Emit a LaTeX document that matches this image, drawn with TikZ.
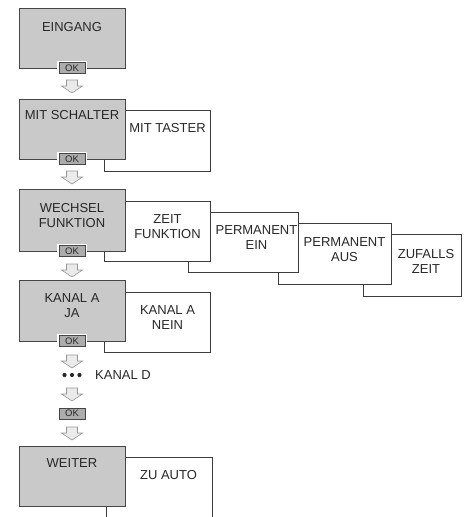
\documentclass[tikz,border=0pt]{standalone}
\usepackage{fontspec}
\setmainfont{Liberation Sans}
\definecolor{boxgray}{RGB}{201,201,201}
\definecolor{boxline}{RGB}{70,70,70}
\definecolor{wline}{RGB}{60,60,60}
\definecolor{okgray}{RGB}{172,172,172}
\definecolor{arrowfill}{RGB}{234,234,234}
\definecolor{arrowline}{RGB}{150,150,150}
\definecolor{txt}{RGB}{40,40,40}
\tikzset{
  downarrow/.pic={\draw[fill=arrowfill,draw=arrowline,line width=0.6pt,line join=miter]
    (-5.5,0) -- (5.5,0) -- (5.5,6) -- (10.5,6) -- (0,13) -- (-10.5,6) -- (-5.5,6) -- cycle;},
}
\begin{document}
\begin{tikzpicture}[x=1pt,y=-1pt,
  gbox/.style={draw=boxline,fill=boxgray,line width=0.8pt,minimum width=106pt,minimum height=60pt,inner sep=0pt},
  wbox/.style={draw=wline,fill=white,line width=0.8pt,inner sep=0pt},
  lbl/.style={text=txt,font=\fontsize{13}{15}\selectfont,align=center,inner sep=0pt},
  okbtn/.style={draw=boxline,fill=okgray,line width=0.7pt,minimum width=26pt,minimum height=11pt,inner sep=0pt,
    font=\fontsize{9.5}{9.5}\selectfont,text=txt,preaction={draw=white,line width=4pt}},
  dot/.style={circle,fill=txt,inner sep=0pt,minimum size=4.2pt},
]
\useasboundingbox (0,0) rectangle (466,517);
\clip (0,0) rectangle (466,517);

% EINGANG
\node[gbox] (eing) at (72,38) {};
\node[okbtn] (ok1) at (72,68) {OK};
\pic at (72,80) {downarrow};

% MIT SCHALTER / MIT TASTER
\node[wbox,minimum width=106pt,minimum height=61pt] (taster) at (157,140.5) {};
\node[gbox] (schalter) at (72,129) {};
\node[okbtn] (ok2) at (72,159) {OK};
\pic at (72,171) {downarrow};

% WECHSEL FUNKTION row
\node[wbox,minimum width=98pt,minimum height=62pt] (zufall) at (412,265) {};
\node[wbox,minimum width=113pt,minimum height=61pt] (paus) at (334.5,253.5) {};
\node[wbox,minimum width=110pt,minimum height=60pt] (pein) at (243,242) {};
\node[wbox,minimum width=106pt,minimum height=60pt] (zeit) at (157,231) {};
\node[gbox,minimum height=62pt] (wechsel) at (72,220) {};
\node[okbtn] (ok3) at (72,251) {OK};
\pic at (72,264) {downarrow};

% KANAL A
\node[wbox,minimum width=106pt,minimum height=60pt] (nein) at (157,322) {};
\node[gbox,minimum height=61pt] (ja) at (72,310.5) {};
\node[okbtn] (ok4) at (72,341) {OK};
\pic at (72,355) {downarrow};

% KANAL D
\node[dot] (d1) at (64.5,375) {};
\node[dot] (d2) at (72,375) {};
\node[dot] (d3) at (79.5,375) {};
\pic at (72,388) {downarrow};
\node[okbtn] (ok5) at (72,413.5) {OK};
\pic at (72,427) {downarrow};

% WEITER / ZU AUTO
\node[wbox,minimum width=106pt,minimum height=70pt] (auto) at (159,492) {};
\node[gbox] (weiter) at (72,476) {};

% labels
\node[lbl] (l1) at (72,27) {EINGANG};
\node[lbl] (l2) at (72,115) {MIT SCHALTER};
\node[lbl] (l3) at (167.5,128) {MIT TASTER};
\node[lbl] (l4) at (72,215.5) {WECHSEL\\FUNKTION};
\node[lbl] (l5) at (167.5,226.5) {ZEIT\\FUNKTION};
\node[lbl] (l6) at (256.5,238) {PERMANENT\\EIN};
\node[lbl] (l7) at (344.5,249.5) {PERMANENT\\AUS};
\node[lbl] (l8) at (426,261) {ZUFALLS\\ZEIT};
\node[lbl] (l9) at (72,305.5) {KANAL A\\JA};
\node[lbl] (l10) at (167.5,318) {KANAL A\\NEIN};
\node[lbl,anchor=west] (l11) at (95,375) {KANAL D};
\node[lbl] (l12) at (72,463) {WEITER};
\node[lbl] (l13) at (168.5,475) {ZU AUTO};
\end{tikzpicture}
\end{document}
